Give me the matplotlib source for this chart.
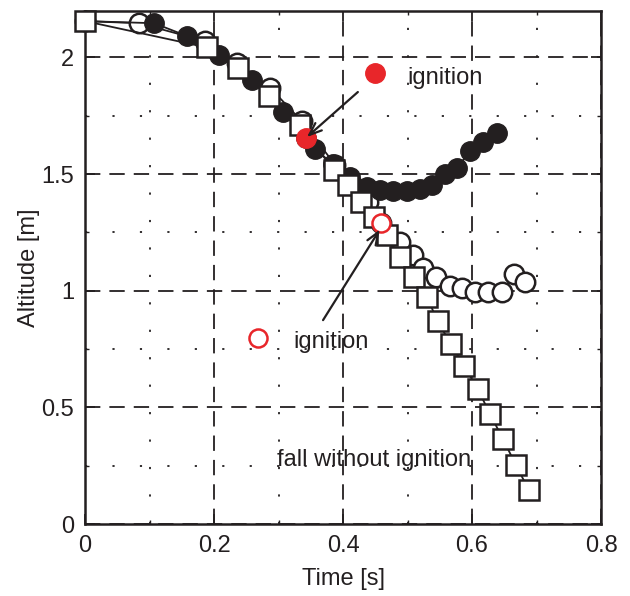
import numpy as np
import matplotlib
matplotlib.use("Agg")
import matplotlib.pyplot as plt
from matplotlib.ticker import MultipleLocator, FuncFormatter

plt.rcParams['font.family'] = ['Liberation Sans', 'DejaVu Sans']

# fall without ignition (squares)
t_fall = [0.0, 0.189, 0.237, 0.285, 0.333, 0.386, 0.408, 0.428, 0.448, 0.468, 0.488,
          0.510, 0.530, 0.547, 0.567, 0.588, 0.609, 0.628, 0.648, 0.668, 0.688]
h_fall = [2.156, 2.043, 1.953, 1.837, 1.709, 1.516, 1.452, 1.379, 1.315, 1.238, 1.143,
          1.058, 0.972, 0.869, 0.771, 0.677, 0.578, 0.471, 0.364, 0.253, 0.146]

# filled circles
t_fill = [0.0, 0.107, 0.158, 0.208, 0.259, 0.307, 0.343, 0.357, 0.384, 0.411, 0.437, 0.457,
          0.478, 0.499, 0.519, 0.538, 0.558, 0.577, 0.597, 0.617, 0.639]
h_fill = [2.156, 2.147, 2.092, 2.010, 1.903, 1.766, 1.655, 1.607, 1.543, 1.489, 1.446, 1.432,
          1.429, 1.429, 1.437, 1.455, 1.502, 1.527, 1.599, 1.637, 1.676]

# open circles
t_open = [0.0, 0.084, 0.186, 0.236, 0.287, 0.336, 0.388, 0.414, 0.439, 0.459, 0.488, 0.509,
          0.524, 0.544, 0.566, 0.584, 0.605, 0.625, 0.647, 0.665, 0.682]
h_open = [2.156, 2.147, 2.070, 1.975, 1.870, 1.727, 1.539, 1.454, 1.380, 1.290, 1.209, 1.153,
          1.097, 1.059, 1.020, 1.012, 0.994, 0.994, 0.994, 1.072, 1.037]

# ignition points
ign_fill = (0.343, 1.655)
ign_open = (0.459, 1.290)

red = '#e8262a'
blk = '#231f20'

fig = plt.figure(figsize=(6.3, 5.96), dpi=100)
ax = fig.add_axes([0.135, 0.1208, 0.819, 0.861])

ax.plot(t_open, h_open, '-', color=blk, lw=1.3, marker='o', ms=14, mfc='white',
        mec=blk, mew=1.8, zorder=3, clip_on=False)
ax.plot(t_fill, h_fill, '-', color=blk, lw=1.3, marker='o', ms=14, mfc=blk,
        mec=blk, mew=1.0, zorder=4, clip_on=False)
ax.plot(t_fall, h_fall, '-', color=blk, lw=1.3, marker='s', ms=14, mfc='white',
        mec=blk, mew=1.8, zorder=5, clip_on=False)

ax.plot(*ign_fill, 'o', ms=14, mfc=red, mec=red, zorder=6)
ax.plot(*ign_open, 'o', ms=13, mfc='white', mec=red, mew=1.8, zorder=6)

# key markers and labels
ax.plot(0.450, 1.933, 'o', ms=14, mfc=red, mec=red, zorder=6)
ax.text(0.50, 1.91, 'ignition', fontsize=17, color=blk, va='center', ha='left')
ax.plot(0.268, 0.797, 'o', ms=13, mfc='white', mec=red, mew=1.8, zorder=6)
ax.text(0.323, 0.78, 'ignition', fontsize=17, color=blk, va='center', ha='left')
ax.text(0.298, 0.274, 'fall without ignition', fontsize=17, color=blk, va='center', ha='left')

arrow = dict(arrowstyle='->,head_length=0.9,head_width=0.35', color=blk, lw=1.6,
             shrinkA=0, shrinkB=0)
ax.annotate('', xy=(0.344, 1.659), xytext=(0.423, 1.852), arrowprops=arrow, zorder=7)
ax.annotate('', xy=(0.457, 1.262), xytext=(0.369, 0.874), arrowprops=arrow, zorder=7)

ax.set_xlim(0, 0.8)
ax.set_ylim(0, 2.2)
ax.xaxis.set_major_locator(MultipleLocator(0.2))
ax.xaxis.set_minor_locator(MultipleLocator(0.1))
ax.yaxis.set_major_locator(MultipleLocator(0.5))
ax.yaxis.set_minor_locator(MultipleLocator(0.25))
fmt = FuncFormatter(lambda v, p: '%g' % round(v, 2))
ax.xaxis.set_major_formatter(fmt)
ax.yaxis.set_major_formatter(fmt)

ax.grid(which='major', color=blk, lw=1.3, ls=(0, (8.5, 5)))
ax.grid(which='minor', color=blk, lw=1.3, ls=(0, (1.2, 14)))
ax.set_axisbelow(True)

ax.tick_params(which='both', direction='in', top=True, right=True, labelsize=17,
               color=blk, labelcolor=blk)
ax.tick_params(which='major', length=7, width=1.3, pad=8)
ax.tick_params(which='minor', length=3, width=1.0)
for s in ax.spines.values():
    s.set_linewidth(1.8)
    s.set_color(blk)

ax.set_xlabel('Time [s]', fontsize=17, color=blk, labelpad=8)
ax.set_ylabel('Altitude [m]', fontsize=17, color=blk, labelpad=1)

fig.savefig('out.png', dpi=100)
